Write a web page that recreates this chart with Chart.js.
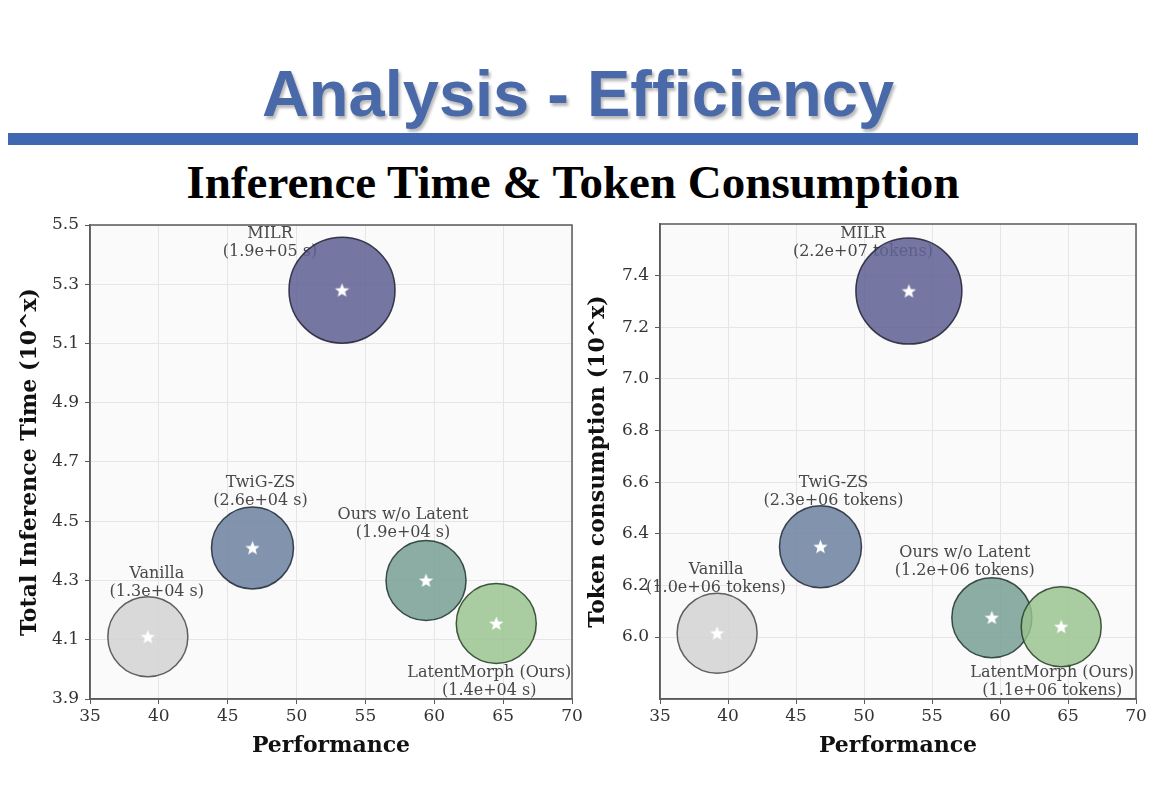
<!DOCTYPE html>
<html>
<head>
<meta charset="utf-8">
<script src="https://cdn.jsdelivr.net/npm/chart.js@4/dist/chart.umd.min.js"></script>
<style>
  body { margin:0; background:#fff; width:1162px; height:798px; overflow:hidden; position:relative; }
  #title { position:absolute; left:0; width:1156px; top:56px; text-align:center;
    font-family:"Liberation Sans", Arial, sans-serif; font-weight:bold; font-size:65px; color:#4a69a9;
    text-shadow: 2px 3px 3px rgba(0,0,0,0.28); line-height:76px; }
  #bar { position:absolute; left:8px; top:133px; width:1130px; height:12px; background:#3f68b0; }
  #subtitle { position:absolute; left:0; width:1146px; top:154px; text-align:center;
    font-family:"Liberation Serif", "Times New Roman", serif; font-weight:bold; font-size:47px; color:#000; line-height:56px; }
  .chartBox { position:absolute; top:200px; height:575px; }
</style>
</head>
<body>
<div id="title">Analysis - Efficiency</div>
<div id="bar"></div>
<div id="subtitle">Inference Time &amp; Token Consumption</div>
<div class="chartBox" style="left:0;width:590px"><canvas id="timeChart" width="590" height="575"></canvas></div>
<div class="chartBox" style="left:580px;width:582px"><canvas id="tokenChart" width="582" height="575"></canvas></div>
<script>
// Data
const methods = ['Vanilla', 'TwiG-ZS', 'MILR', 'Ours w/o Latent', 'LatentMorph (Ours)'];
const performance = [39.2, 46.8, 53.3, 59.4, 64.5];
const timeLog = [4.11, 4.41, 5.28, 4.30, 4.155];
const tokenLog = [6.015, 6.35, 7.34, 6.075, 6.04];
const timeText = ['1.3e+04 s', '2.6e+04 s', '1.9e+05 s', '1.9e+04 s', '1.4e+04 s'];
const tokenText = ['1.0e+06 tokens', '2.3e+06 tokens', '2.2e+07 tokens', '1.2e+06 tokens', '1.1e+06 tokens'];

// Tick labels
const xTicks = [35, 40, 45, 50, 55, 60, 65, 70];
const timeTicks = [3.9, 4.1, 4.3, 4.5, 4.7, 4.9, 5.1, 5.3, 5.5];
const tokenTicks = [6.0, 6.2, 6.4, 6.6, 6.8, 7.0, 7.2, 7.4];

// Styles
const fillColors = ['rgba(210,210,210,0.85)', 'rgba(108,128,160,0.85)', 'rgba(98,98,148,0.87)', 'rgba(120,159,148,0.85)', 'rgba(152,194,142,0.82)'];
const edgeColors = ['rgba(80,80,80,0.9)', 'rgba(30,40,55,0.85)', 'rgba(30,30,50,0.85)', 'rgba(30,50,45,0.85)', 'rgba(35,60,35,0.85)'];
const bubbleRadius = [40, 41, 53, 40, 40];
// label block offsets (px) from the bubble centre
const timeLabelOffset = [[9, -54], [8, -56], [-72, -47], [-23, -57], [-7, 58]];
const tokenLabelOffset = [[-1, -54], [13, -55], [-46, -48], [-27, -56], [-9, 55]];

// keep the plot area where the axes put it, bubbles are not used for padding
Chart.BubbleController.prototype.getMaxOverflow = function() { return false; };
Chart.ScatterController.prototype.getMaxOverflow = function() { return false; };

// white star marker
const starImg = document.createElement('canvas');
starImg.width = 15; starImg.height = 15;
(function(){
  const c = starImg.getContext('2d');
  c.fillStyle = '#fff';
  c.beginPath();
  for (let i = 0; i < 10; i++) {
    const r = i % 2 === 0 ? 7.5 : 3.2;
    const a = -Math.PI / 2 + i * Math.PI / 5;
    const px = 7.5 + r * Math.cos(a), py = 8 + r * Math.sin(a);
    if (i === 0) c.moveTo(px, py); else c.lineTo(px, py);
  }
  c.closePath();
  c.fill();
})();

const serif = "'DejaVu Serif', serif";

// plot background and full frame
const frame = {
  id: 'frame',
  beforeDraw(chart) {
    const {ctx, chartArea: a} = chart;
    ctx.save();
    ctx.fillStyle = '#fafafa';
    ctx.fillRect(a.left, a.top, a.right - a.left, a.bottom - a.top);
    ctx.restore();
  },
  afterDraw(chart) {
    const {ctx, chartArea: a} = chart;
    ctx.save();
    ctx.strokeStyle = '#5a5a5a';
    ctx.lineWidth = 1.5;
    ctx.strokeRect(a.left, a.top, a.right - a.left, a.bottom - a.top);
    ctx.restore();
  }
};

// method labels, drawn under the bubbles
const pointLabels = {
  id: 'pointLabels',
  beforeDatasetsDraw(chart, args, opts) {
    const {ctx} = chart;
    const xs = chart.scales.x, ys = chart.scales.y;
    ctx.save();
    ctx.font = "16px " + serif;
    ctx.fillStyle = '#484848';
    ctx.textAlign = 'center';
    ctx.textBaseline = 'middle';
    methods.forEach((m, i) => {
      const px = xs.getPixelForValue(performance[i]) + opts.offsets[i][0];
      const py = ys.getPixelForValue(opts.values[i]) + opts.offsets[i][1];
      ctx.fillText(m, px, py - 9);
      ctx.fillText('(' + opts.texts[i] + ')', px, py + 9);
    });
    ctx.restore();
  }
};

function makeChart(canvas, yValues, yTicks, yMin, yMax, yTitle, texts, offsets, yWidth, yTitlePad, padTop, padRight) {
  return new Chart(canvas, {
    type: 'bubble',
    data: {
      datasets: [{
        order: 2,
        data: performance.map((p, i) => ({x: p, y: yValues[i], r: bubbleRadius[i]})),
        backgroundColor: fillColors,
        borderColor: edgeColors,
        borderWidth: 1.5
      }, {
        type: 'scatter',
        order: 1,
        data: performance.map((p, i) => ({x: p, y: yValues[i]})),
        pointStyle: starImg,
        pointRadius: 7
      }]
    },
    options: {
      responsive: false,
      animation: false,
      events: [],
      layout: {padding: {top: padTop, right: padRight, left: 0, bottom: 0}},
      plugins: {
        legend: {display: false},
        tooltip: {enabled: false},
        pointLabels: {values: yValues, texts: texts, offsets: offsets}
      },
      scales: {
        x: {
          type: 'linear', min: 35, max: 70,
          afterBuildTicks: s => { s.ticks = xTicks.map(v => ({value: v})); },
          afterFit: s => { s.height = 76; },
          grid: {color: '#e6e6e6', lineWidth: 1, tickColor: '#5a5a5a', tickLength: 5},
          border: {color: '#5a5a5a', width: 1.5},
          ticks: {font: {family: serif, size: 17}, color: '#333', padding: 2, maxRotation: 0},
          title: {display: true, text: 'Performance', font: {family: serif, size: 22, weight: 'bold'}, color: '#111', padding: {top: 0, bottom: 16}}
        },
        y: {
          type: 'linear', min: yMin, max: yMax,
          afterBuildTicks: s => { s.ticks = yTicks.map(v => ({value: v})); },
          afterFit: s => { s.width = yWidth; },
          grid: {color: '#e6e6e6', lineWidth: 1, tickColor: '#5a5a5a', tickLength: 5},
          border: {color: '#5a5a5a', width: 1.5},
          ticks: {font: {family: serif, size: 17}, color: '#333', padding: 6, callback: v => v.toFixed(1)},
          title: {display: true, text: yTitle, font: {family: serif, size: 22, weight: 'bold'}, color: '#111', padding: {top: yTitlePad, bottom: 0}}
        }
      }
    },
    plugins: [frame, pointLabels]
  });
}

makeChart(document.getElementById('timeChart'), timeLog, timeTicks, 3.9, 5.5,
  'Total Inference Time (10^x)', timeText, timeLabelOffset, 90, 17, 25, 18);
makeChart(document.getElementById('tokenChart'), tokenLog, tokenTicks, 5.76, 7.6,
  'Token consumption (10^x)', tokenText, tokenLabelOffset, 80, 5, 24, 26);
</script>
</body>
</html>
